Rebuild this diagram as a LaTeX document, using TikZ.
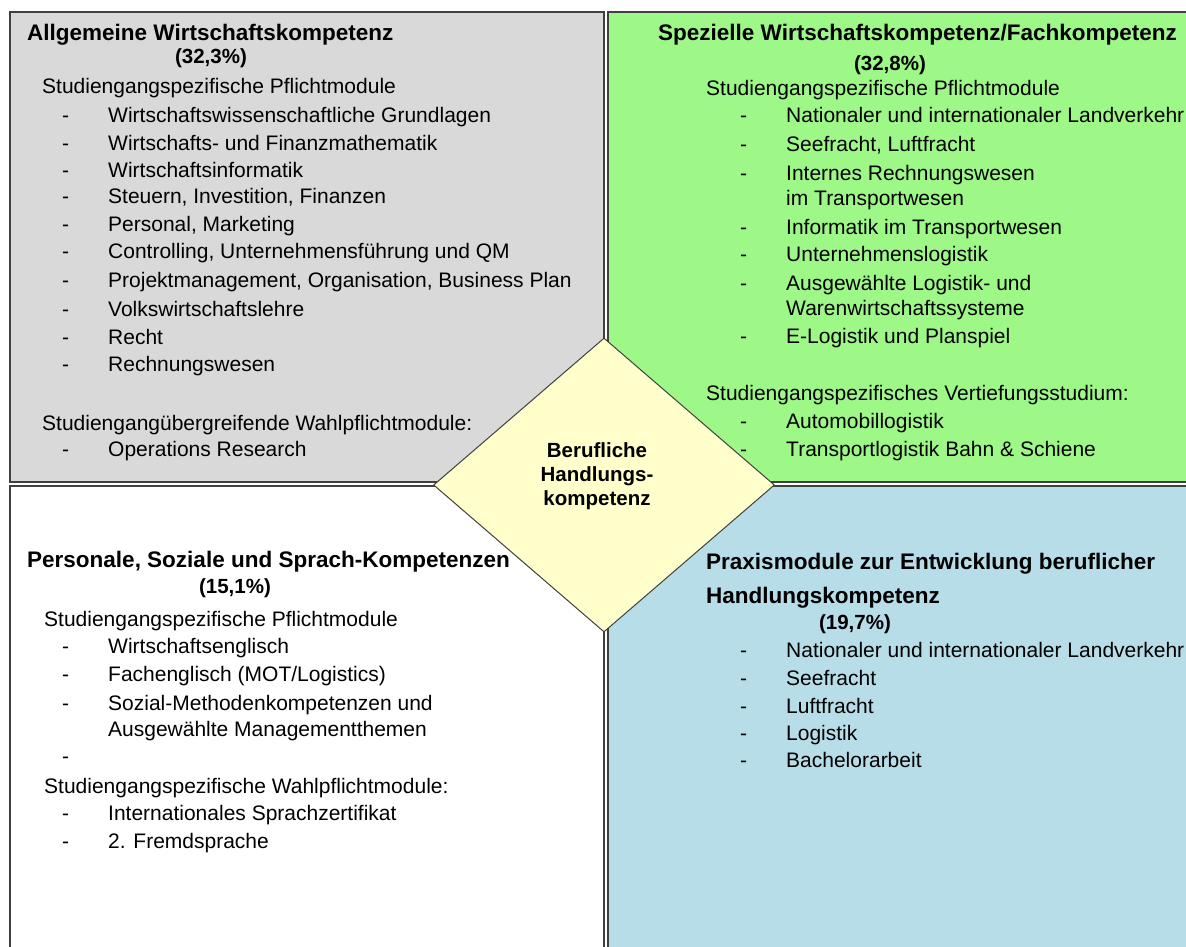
\documentclass[tikz,border=0pt]{standalone}
\usepackage{fontspec}
\setmainfont{Liberation Sans}
\usetikzlibrary{shapes.geometric}
\definecolor{boxgray}{RGB}{217,217,217}
\definecolor{boxgreen}{RGB}{158,248,136}
\definecolor{boxblue}{RGB}{183,221,232}
\definecolor{coreyellow}{RGB}{255,255,204}
\definecolor{edgegray}{RGB}{64,64,64}
\tikzset{
  quad/.style={draw=edgegray, line width=1.6pt},
  txt/.style={anchor=base west, inner sep=0pt, font=\fontsize{21}{25}\selectfont},
  ttl/.style={anchor=base west, inner sep=0pt, font=\fontsize{22.5}{26}\selectfont\bfseries},
  pct/.style={anchor=base, inner sep=0pt, font=\fontsize{20.5}{25}\selectfont\bfseries},
  dsh/.style={anchor=base west, inner sep=0pt, font=\fontsize{21}{25}\selectfont},
}
\begin{document}
\begin{tikzpicture}[x=1pt,y=-1pt]
\useasboundingbox (0,0) rectangle (1186,947);
\clip (0,0) rectangle (1186,947);
% quadrants
\node[quad, fill=boxgray, minimum width=594pt, minimum height=470pt, anchor=north west, inner sep=0] (q1) at (9,11) {};
\node[quad, fill=boxgreen, minimum width=600pt, minimum height=470pt, anchor=north west, inner sep=0] (q2) at (607,11) {};
\node[quad, fill=white, minimum width=594pt, minimum height=480pt, anchor=north west, inner sep=0] (q3) at (9,485) {};
\node[quad, fill=boxblue, minimum width=600pt, minimum height=480pt, anchor=north west, inner sep=0] (q4) at (607,485) {};
% diamond
\node[diamond, draw=edgegray, line width=1pt, fill=coreyellow, minimum width=341pt, minimum height=294pt, inner sep=0pt, shape aspect=1.16] (core) at (604,485) {};
\node[align=center, inner sep=0pt, font=\fontsize{20.5}{24}\selectfont\bfseries] (coretext) at (597,476) {Berufliche\\Handlungs-\\kompetenz};

% Quadrant 1
\node[ttl] (t1) at (27,41) {Allgemeine Wirtschaftskompetenz};
\node[pct] (p1) at (211,64) {(32,3\%)};
\node[txt] (s1a) at (42,94) {Studiengangspezifische Pflichtmodule};
\foreach \y/\t [count=\i] in {123/{Wirtschaftswissenschaftliche Grundlagen},
  150/{Wirtschafts- und Finanzmathematik},
  177/{Wirtschaftsinformatik},
  204/{Steuern, Investition, Finanzen},
  231/{Personal, Marketing},
  258/{Controlling, Unternehmensführung und QM},
  287/{Projektmanagement, Organisation, Business Plan},
  316/{Volkswirtschaftslehre},
  344/{Recht},
  371/{Rechnungswesen}}{
  \node[dsh] (d1\i) at (62,\y) {-};
  \node[txt] (i1\i) at (108,\y) {\t};
}
\node[txt] (s1b) at (42,430) {Studiengangübergreifende Wahlpflichtmodule:};
\node[dsh] (d1x) at (62,456) {-};
\node[txt] (i1x) at (108,456) {Operations Research};

% Quadrant 2
\node[ttl] (t2) at (658,41) {Spezielle Wirtschaftskompetenz/Fachkompetenz};
\node[pct] (p2) at (890,71) {(32,8\%)};
\node[txt] (s2a) at (706,96) {Studiengangspezifische Pflichtmodule};
\foreach \y/\t [count=\i] in {123/{Nationaler und internationaler Landverkehr},
  152/{Seefracht, Luftfracht},
  180/{Internes Rechnungswesen},
  234/{Informatik im Transportwesen},
  261/{Unternehmenslogistik},
  290/{Ausgewählte Logistik- und},
  343/{E-Logistik und Planspiel}}{
  \node[dsh] (d2\i) at (740,\y) {-};
  \node[txt] (i2\i) at (786,\y) {\t};
}
\node[txt] (i2c) at (786,205) {im Transportwesen};
\node[txt] (i2f) at (786,315) {Warenwirtschaftssysteme};
\node[txt] (s2b) at (706,400) {Studiengangspezifisches Vertiefungsstudium:};
\node[dsh] (d2x) at (740,428) {-};
\node[txt] (i2x) at (786,428) {Automobillogistik};
\node[dsh] (d2y) at (740,456) {-};
\node[txt] (i2y) at (786,456) {Transportlogistik Bahn \& Schiene};

% Quadrant 3
\node[ttl] (t3) at (27,567) {Personale, Soziale und Sprach-Kompetenzen};
\node[pct] (p3) at (235,593) {(15,1\%)};
\node[txt] (s3a) at (44,626) {Studiengangspezifische Pflichtmodule};
\foreach \y/\t [count=\i] in {653/{Wirtschaftsenglisch},
  681/{Fachenglisch (MOT/Logistics)},
  710/{Sozial-Methodenkompetenzen und}}{
  \node[dsh] (d3\i) at (62,\y) {-};
  \node[txt] (i3\i) at (108,\y) {\t};
}
\node[txt] (i3c) at (108,736) {Ausgewählte Managementthemen};
\node[dsh] (d3e) at (62,763) {-};
\node[txt] (s3b) at (44,793) {Studiengangspezifische Wahlpflichtmodule:};
\node[dsh] (d3x) at (62,820) {-};
\node[txt] (i3x) at (108,820) {Internationales Sprachzertifikat};
\node[dsh] (d3y) at (62,848) {-};
\node[txt] (i3y) at (108,848) {2. Fremdsprache};

% Quadrant 4
\node[ttl] (t4) at (706,569) {Praxismodule zur Entwicklung beruflicher};
\node[ttl] (t4b) at (706,603) {Handlungskompetenz};
\node[pct] (p4) at (855,629) {(19,7\%)};
\foreach \y/\t [count=\i] in {657/{Nationaler und internationaler Landverkehr},
  685/{Seefracht},
  713/{Luftfracht},
  740/{Logistik},
  767/{Bachelorarbeit}}{
  \node[dsh] (d4\i) at (740,\y) {-};
  \node[txt] (i4\i) at (786,\y) {\t};
}
\end{tikzpicture}
\end{document}
